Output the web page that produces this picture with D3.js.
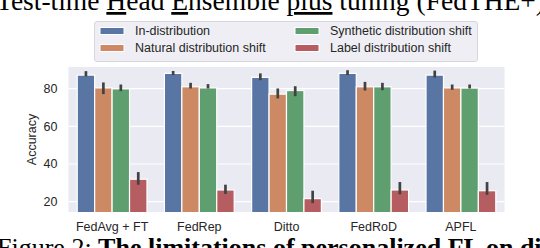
<!DOCTYPE html>
<html lang="en">
<head>
    <meta charset="UTF-8">
    <script src="https://d3js.org/d3.v7.min.js"></script>
    <title>Accuracy under distribution shifts</title>
    <style>
        html, body {
            margin: 0;
            padding: 0;
            background: #ffffff;
            overflow: hidden;
        }
        svg text {
            font-family: "Liberation Sans", Arial, sans-serif;
            fill: #262626;
        }
        svg text.serif {
            font-family: "Liberation Serif", "Times New Roman", serif;
            fill: #000000;
        }
    </style>
</head>
<body>
    <svg id="chart" width="540" height="248"></svg>

    <script>
        const width = 540;
        const height = 248;

        // data
        const methods = ["FedAvg + FT", "FedRep", "Ditto", "FedRoD", "APFL"];
        const series = ["In-distribution", "Natural distribution shift",
                        "Synthetic distribution shift", "Label distribution shift"];
        const inDist    = [87.2, 88.1, 86.0, 88.1, 87.2];
        const natural   = [80.4, 81.0, 77.1, 81.0, 80.4];
        const synthetic = [79.9, 80.4, 79.0, 81.0, 80.3];
        const label     = [31.9, 26.2, 21.6, 26.2, 25.8];
        // error bar ends (low, high)
        const inDistErr    = [[86.5, 89.3], [87.2, 89.4], [84.5, 88.1], [87.2, 89.8], [85.9, 89.6]];
        const naturalErr   = [[77.1, 83.3], [80.1, 83.1], [74.8, 80.1], [79.0, 83.6], [79.4, 82.2]];
        const syntheticErr = [[78.7, 82.2], [80.1, 82.4], [76.0, 81.3], [79.2, 83.1], [80.1, 82.2]];
        const labelErr     = [[29.0, 35.7], [24.1, 29.0], [19.2, 25.8], [23.9, 30.4], [23.6, 30.4]];
        const yTicks = [20, 40, 60, 80];

        const colors = ["#5975a4", "#cc8963", "#5f9e6e", "#b55d60"];
        const values = [inDist, natural, synthetic, label];
        const errs = [inDistErr, naturalErr, syntheticErr, labelErr];

        const plot = {left: 68.5, right: 504.5, top: 67, bottom: 212};

        const svg = d3.select("#chart");

        const x = d3.scaleBand()
            .domain(methods)
            .range([plot.left, plot.right])
            .paddingInner(0.2)
            .paddingOuter(0.1);
        const xSub = d3.scaleBand()
            .domain(series)
            .range([0, x.bandwidth()]);
        const y = d3.scaleLinear()
            .domain([14.5, 91.5])
            .range([plot.bottom, plot.top]);

        // axes background
        svg.append("rect")
            .attr("x", plot.left)
            .attr("y", plot.top)
            .attr("width", plot.right - plot.left)
            .attr("height", plot.bottom - plot.top)
            .attr("fill", "#eaeaf2");

        svg.append("defs").append("clipPath")
            .attr("id", "plotClip")
            .append("rect")
            .attr("x", plot.left)
            .attr("y", plot.top)
            .attr("width", plot.right - plot.left)
            .attr("height", plot.bottom - plot.top);

        // grid
        svg.append("g")
            .selectAll("line")
            .data(yTicks)
            .join("line")
            .attr("x1", plot.left)
            .attr("x2", plot.right)
            .attr("y1", d => y(d))
            .attr("y2", d => y(d))
            .attr("stroke", "#ffffff")
            .attr("stroke-width", 1.2);

        // bars
        const barLayer = svg.append("g").attr("clip-path", "url(#plotClip)");
        series.forEach((s, si) => {
            barLayer.append("g")
                .selectAll("rect")
                .data(methods)
                .join("rect")
                .attr("x", m => x(m) + xSub(s))
                .attr("y", (m, i) => y(values[si][i]))
                .attr("width", xSub.bandwidth())
                .attr("height", (m, i) => y(0) - y(values[si][i]))
                .attr("fill", colors[si])
                .attr("stroke", "#ffffff")
                .attr("stroke-width", 1.2);
        });

        // error bars
        series.forEach((s, si) => {
            svg.append("g")
                .selectAll("line")
                .data(methods)
                .join("line")
                .attr("x1", m => x(m) + xSub(s) + xSub.bandwidth() / 2)
                .attr("x2", m => x(m) + xSub(s) + xSub.bandwidth() / 2)
                .attr("y1", (m, i) => y(errs[si][i][0]))
                .attr("y2", (m, i) => y(errs[si][i][1]))
                .attr("stroke", "#424242")
                .attr("stroke-width", 2.7);
        });

        // y axis
        const yAxis = svg.append("g")
            .attr("transform", `translate(${plot.left},0)`)
            .call(d3.axisLeft(y).tickValues(yTicks).tickSize(0).tickPadding(11));
        yAxis.select(".domain").remove();
        yAxis.selectAll("text")
            .style("font-size", "12.5px")
            .attr("fill", "#262626");

        svg.append("text")
            .attr("transform", `translate(36,${(plot.top + plot.bottom) / 2}) rotate(-90)`)
            .attr("text-anchor", "middle")
            .style("font-size", "12.5px")
            .text("Accuracy");

        // x axis
        const xAxis = svg.append("g")
            .attr("transform", `translate(0,${plot.bottom})`)
            .call(d3.axisBottom(x).tickSize(0).tickPadding(10));
        xAxis.select(".domain").remove();
        xAxis.selectAll("text")
            .style("font-size", "12.5px")
            .attr("fill", "#262626");

        // legend
        const legend = svg.append("g");
        legend.append("rect")
            .attr("x", 94.5)
            .attr("y", 21.5)
            .attr("width", 383)
            .attr("height", 40)
            .attr("rx", 2.5)
            .attr("fill", "#eeeef4")
            .attr("stroke", "#d6d6dc")
            .attr("stroke-width", 1);
        const legX = [100, 295];
        const legY = [31, 48];
        series.forEach((s, i) => {
            const col = Math.floor(i / 2);
            const row = i % 2;
            legend.append("rect")
                .attr("x", legX[col])
                .attr("y", legY[row] - 3.5)
                .attr("width", 24)
                .attr("height", 7)
                .attr("fill", colors[i])
                .attr("stroke", "#ffffff")
                .attr("stroke-width", 1);
            legend.append("text")
                .attr("x", legX[col] + 35)
                .attr("y", legY[row])
                .attr("dy", "0.35em")
                .style("font-size", "12.5px")
                .text(s);
        });

        // surrounding paper text (cropped in the original)
        const head = svg.append("text")
            .attr("class", "serif")
            .attr("x", -4)
            .attr("y", 10)
            .style("font-size", "27.5px");
        head.append("tspan").text("Test-time ");
        head.append("tspan").style("text-decoration", "underline").text("H");
        head.append("tspan").text("ead ");
        head.append("tspan").style("text-decoration", "underline").text("E");
        head.append("tspan").text("nsemble ");
        head.append("tspan").style("text-decoration", "underline").text("plus");
        head.append("tspan").text(" tuning (FedTHE+)");

        const cap = svg.append("text")
            .attr("class", "serif")
            .attr("x", -3)
            .attr("y", 256)
            .style("font-size", "26px");
        cap.append("tspan").text("Figure 2: ");
        cap.append("tspan").style("font-weight", "bold")
            .text("The limitations of personalized FL on distribution shifts");
    </script>
</body>
</html>
